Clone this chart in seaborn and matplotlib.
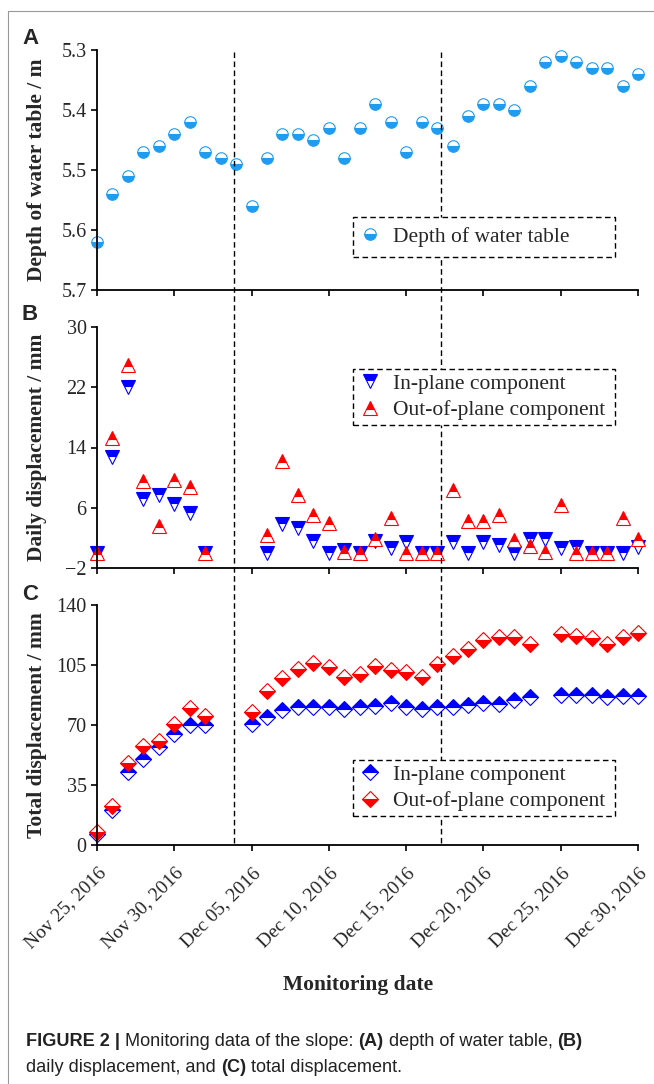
import numpy as np
import pandas as pd
import seaborn as sns
import matplotlib.pyplot as plt
import matplotlib.dates as mdates
import matplotlib.transforms as mtransforms
from matplotlib.lines import Line2D
from matplotlib.patches import Rectangle

sns.set_style('ticks')
plt.rcParams['font.family'] = ['Liberation Serif', 'DejaVu Serif']

# ---- data ----
start = pd.Timestamp('2016-11-25')

depth = [5.62, 5.54, 5.51, 5.47, 5.46, 5.44, 5.42, 5.47, 5.48, 5.49, 5.56, 5.48,
         5.44, 5.44, 5.45, 5.43, 5.48, 5.43, 5.39, 5.42, 5.47, 5.42, 5.43, 5.46,
         5.41, 5.39, 5.39, 5.40, 5.36, 5.32, 5.31, 5.32, 5.33, 5.33, 5.36, 5.34]
depth_days = list(range(36))

daily_days = list(range(0, 8)) + list(range(11, 36))
daily_in = [0, 12.8, 22.0, 7.1, 7.7, 6.5, 5.3, 0,
            0, 3.9, 3.3, 1.6, 0, 0.4, 0, 1.6, 0.6, 1.5, 0, 0, 1.5, 0, 1.4, 1.0, 0,
            1.9, 1.9, 0.6, 0.8, 0, 0, 0, 0.8]
daily_out = [0, 15.2, 25.0, 9.6, 3.6, 9.7, 8.7, 0,
             2.4, 12.2, 7.7, 5.1, 4.0, 0.1, 0, 1.9, 4.6, 0, 0, 0, 8.3, 4.3, 4.3,
             5.0, 1.7, 0.9, 0.1, 6.4, 0, 0, 0, 4.6, 1.9]

total_days = list(range(0, 8)) + list(range(10, 29)) + list(range(30, 36))
total_in = [6.7, 20.4, 42.3, 49.9, 57.3, 64.5, 70.0, 70.0,
            70.5, 74.8, 78.7, 80.7, 80.7, 80.7, 79.1, 80.7, 81.2, 82.6, 80.7,
            79.1, 80.7, 80.7, 81.6, 83.0, 82.2, 84.6, 86.5,
            87.5, 87.5, 87.5, 86.5, 86.9, 87.1]
total_out = [7.7, 22.7, 47.6, 57.7, 60.8, 70.5, 79.7, 75.2,
             77.7, 90.0, 97.2, 102.5, 106.0, 104.0, 98.2, 99.7, 104.6, 102.1,
             101.1, 97.8, 105.4, 110.2, 114.3, 119.6, 121.1, 121.5, 117.0,
             122.9, 122.1, 120.5, 117.0, 121.5, 123.5]

events = ['2016-12-03 20:00', '2016-12-17 05:45']
tick_dates = pd.date_range('2016-11-25', '2016-12-30', freq='5D')

def to_dates(offsets):
    return start + pd.to_timedelta(offsets, unit='D')

dfA = pd.DataFrame({'date': to_dates(depth_days), 'depth': depth})
dfB = pd.DataFrame({'date': to_dates(daily_days), 'inp': daily_in, 'outp': daily_out})
dfC = pd.DataFrame({'date': to_dates(total_days), 'inp': total_in, 'outp': total_out})

sky = '#1f9cf0'
blue = '#0000ff'
red = '#ff0000'

W, H = 654, 1084
fig = plt.figure(figsize=(W / 100, H / 100), dpi=100)

def box(top, bottom):
    return [97 / W, 1 - bottom / H, (638 - 97) / W, (bottom - top) / H]

axA = fig.add_axes(box(50, 290))
axB = fig.add_axes(box(327, 568))
axC = fig.add_axes(box(605, 845))

def mstyle(marker, color, fill, ms):
    return dict(linestyle='none', marker=marker, markersize=ms, color=color,
                markerfacecolor=color, markerfacecoloralt='white',
                fillstyle=fill, markeredgecolor=color, markeredgewidth=0.8)

stA = mstyle('o', sky, 'bottom', 8.3)
stB1 = mstyle('v', blue, 'top', 9.5)
stB2 = mstyle('^', red, 'top', 9.5)
stC1 = mstyle('D', blue, 'top', 8.5)
stC2 = mstyle('D', red, 'bottom', 8.5)

sns.lineplot(data=dfA, x='date', y='depth', ax=axA, estimator=None, sort=False,
             clip_on=False, **stA)
sns.lineplot(data=dfB, x='date', y='inp', ax=axB, estimator=None, sort=False,
             clip_on=False, **stB1)
sns.lineplot(data=dfB, x='date', y='outp', ax=axB, estimator=None, sort=False,
             clip_on=False, **stB2)
sns.lineplot(data=dfC, x='date', y='inp', ax=axC, estimator=None, sort=False,
             clip_on=False, **stC1)
sns.lineplot(data=dfC, x='date', y='outp', ax=axC, estimator=None, sort=False,
             clip_on=False, **stC2)

axA.set_ylim(5.7, 5.3)
axA.set_yticks([5.3, 5.4, 5.5, 5.6, 5.7])
axA.set_yticklabels(['5.3', '5.4', '5.5', '5.6', '5.7'])
axB.set_ylim(-2, 30)
axB.set_yticks([-2, 6, 14, 22, 30])
axC.set_ylim(0, 140)
axC.set_yticks([0, 35, 70, 105, 140])

ylabels = ['Depth of water table / m', 'Daily displacement / mm', 'Total displacement / mm']
for ax, lab in zip([axA, axB, axC], ylabels):
    ax.set_xlim(mdates.date2num(tick_dates[0]), mdates.date2num(tick_dates[-1]))
    ax.set_xticks(tick_dates)
    ax.xaxis.set_major_formatter(mdates.DateFormatter('%b %d, %Y'))
    ax.set_xlabel('')
    ax.set_ylabel(lab, fontsize=15.5, fontweight='bold')
    ax.yaxis.set_label_coords(-0.092, 0.5)
    sns.despine(ax=ax)
    for s in ['left', 'bottom']:
        ax.spines[s].set_linewidth(1.3)
        ax.spines[s].set_color('black')
    ax.tick_params(direction='out', length=4.5, width=1.2, labelsize=14.5,
                   color='black', pad=3)
    ax.set_facecolor('none')

axA.tick_params(axis='x', labelbottom=False)
axB.tick_params(axis='x', labelbottom=False)
axC.tick_params(axis='x', pad=5, labelsize=14)
shift = mtransforms.ScaledTranslation(0.06, -0.12, fig.dpi_scale_trans)
for lbl in axC.get_xticklabels():
    lbl.set_rotation(45)
    lbl.set_ha('right')
    lbl.set_va('center')
    lbl.set_rotation_mode('anchor')
    lbl.set_transform(lbl.get_transform() + shift)

axC.set_xlabel('')
fig.text(358 / W, 1 - 985 / H, 'Monitoring date', fontsize=15.5,
         fontweight='bold', ha='center', va='center')

# event lines through all panels
tr = mtransforms.blended_transform_factory(axC.transData, fig.transFigure)
for ev in events:
    xv = mdates.date2num(pd.Timestamp(ev))
    fig.add_artist(Line2D([xv, xv], [1 - 52 / H, 1 - 845 / H], transform=tr,
                          color='black', lw=1.0, linestyle=(0, (4, 2.5)),
                          zorder=0.5))

# legends with dashed boxes
def legend_box(top, bottom, handles, labels):
    fig.add_artist(Rectangle((353 / W, 1 - bottom / H), (615 - 353) / W,
                             (bottom - top) / H, transform=fig.transFigure,
                             facecolor='white', edgecolor='black', lw=1.0,
                             linestyle=(0, (4, 2.5)), zorder=1))
    fig.legend(handles, labels, loc='center left',
               bbox_to_anchor=(360 / W, 1 - (top + bottom) / 2 / H),
               bbox_transform=fig.transFigure, frameon=False, fontsize=15.5,
               handlelength=0.95, handletextpad=0.6, borderpad=0,
               borderaxespad=0, labelspacing=0.28, numpoints=1)

legend_box(217, 257, [Line2D([], [], **stA)], ['Depth of water table'])
legend_box(369, 425, [Line2D([], [], **stB1), Line2D([], [], **stB2)],
           ['In-plane component', 'Out-of-plane component'])
legend_box(760, 816, [Line2D([], [], **stC1), Line2D([], [], **stC2)],
           ['In-plane component', 'Out-of-plane component'])

# panel letters
for letter, yc in [('A', 38), ('B', 315), ('C', 594)]:
    fig.text(22 / W, 1 - yc / H, letter, fontsize=16, fontweight='bold',
             family='Liberation Sans', ha='left', va='center')

# outer frame
fig.add_artist(Line2D([7.5 / W, 1], [1 - 10.5 / H, 1 - 10.5 / H],
                      transform=fig.transFigure, color='#999999', lw=0.8))
fig.add_artist(Line2D([7.5 / W, 7.5 / W], [0, 1 - 10.5 / H],
                      transform=fig.transFigure, color='#999999', lw=0.8))

# caption with bold runs
renderer = fig.canvas.get_renderer()

def write_runs(x, y, runs, size=13.1):
    for txt, bold in runs:
        t = fig.text(x / W, 1 - y / H, txt, fontsize=size,
                     fontweight='bold' if bold else 'normal',
                     family='Liberation Sans', ha='left', va='center',
                     color='#222222')
        x += t.get_window_extent(renderer=renderer).width

write_runs(26, 1042, [('FIGURE 2 | ', True), ('Monitoring data of the slope: ', False),
                      ('(A)', True), (' depth of water table, ', False), ('(B)', True)])
write_runs(26, 1068, [('daily displacement, and ', False), ('(C)', True),
                      (' total displacement.', False)])

fig.savefig('out.png', dpi=100)
